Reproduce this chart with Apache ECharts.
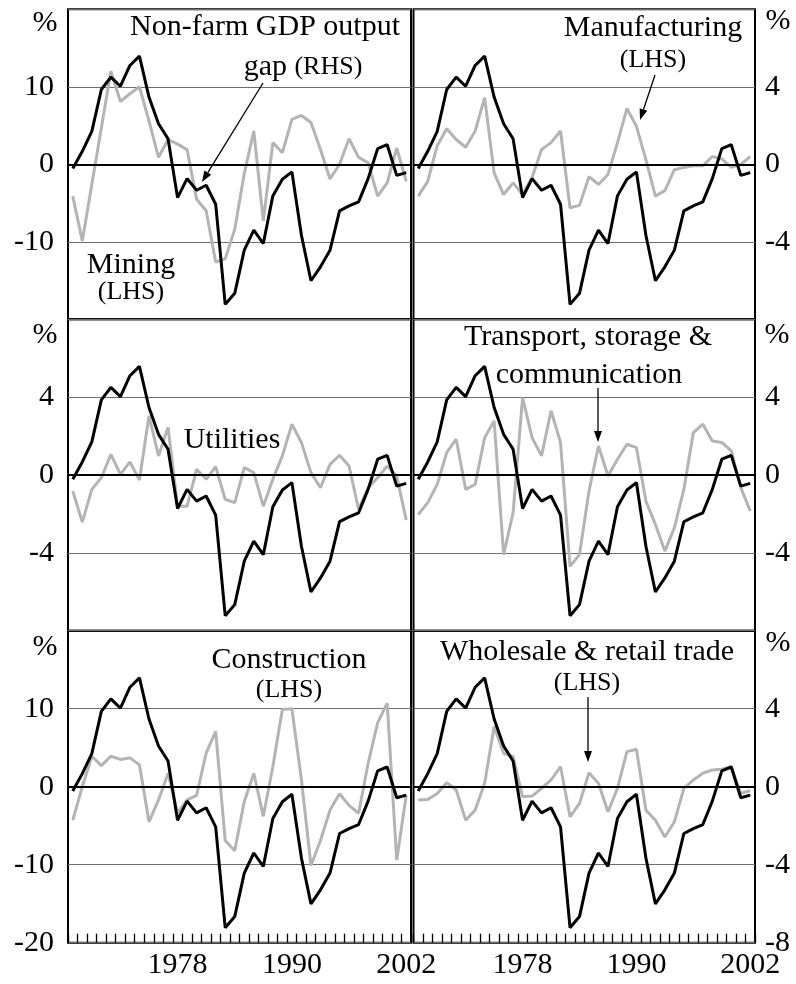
<!DOCTYPE html>
<html><head><meta charset="utf-8">
<script src="https://cdn.jsdelivr.net/npm/echarts@6/dist/echarts.min.js"></script>
<style>html,body{margin:0;padding:0;background:#fff;}#c{width:796px;height:984px;}</style>
</head><body><div id="c"></div>
<script>
const years = ['1967','1968','1969','1970','1971','1972','1973','1974','1975','1976','1977','1978',
  '1979','1980','1981','1982','1983','1984','1985','1986','1987','1988','1989','1990',
  '1991','1992','1993','1994','1995','1996','1997','1998','1999','2000','2001','2002'];
const xTickLabels = ['1978','1990','2002'];
// Non-farm GDP output gap (RHS, %)
const outputGap = [-0.22,0.67,1.7,3.86,4.50,4.03,5.10,5.58,3.47,2.09,1.32,-1.72,-0.74,-1.34,-1.08,-2.06,-7.23,-6.66,-4.43,-3.40,-4.09,-1.63,-0.77,-0.39,-3.66,-6.01,-5.29,-4.43,-2.40,-2.15,-1.94,-0.74,0.81,1.01,-0.57,-0.43];
// Sector output gaps (LHS, %)
const mining = [-4.1,-9.9,-2.6,4.7,12.0,8.1,9.1,10.0,5.6,0.9,3.2,2.6,1.9,-4.5,-6.0,-12.6,-12.2,-8.4,-1.2,4.3,-7.3,2.8,1.5,5.8,6.3,5.4,1.9,-1.9,0.0,3.3,0.9,0.2,-4.1,-2.4,2.1,-2.2];
const manufacturing = [-4.1,-2.2,2.4,4.6,3.2,2.2,4.3,8.6,-1.1,-3.9,-2.4,-3.9,-1.7,1.9,2.8,4.3,-5.6,-5.3,-1.6,-2.6,-1.3,2.8,7.2,4.9,0.6,-4.1,-3.4,-0.7,-0.4,-0.2,-0.2,1.0,0.7,-0.4,0.0,1.0];
const utilities = [-0.82,-2.42,-0.74,-0.14,1.06,0.03,0.67,-0.26,3.04,0.98,2.44,-1.6,-1.6,0.29,-0.22,0.43,-1.25,-1.42,0.38,0.12,-1.6,-0.22,0.98,2.61,1.67,0.12,-0.65,0.55,1.01,0.46,-1.77,-0.65,-0.14,0.46,-0.05,-2.32];
const transport = [-2.03,-1.42,-0.48,1.15,1.84,-0.74,-0.48,1.92,2.78,-4.09,-1.94,3.98,1.92,0.98,3.30,1.67,-4.69,-4.09,-0.82,1.49,-0.05,0.81,1.58,1.41,-1.34,-2.54,-3.91,-2.71,-0.74,2.18,2.61,1.75,1.67,1.24,-0.65,-1.85];
const construction = [-4.3,0.0,3.9,2.7,3.9,3.5,3.7,2.8,-4.5,-1.7,1.7,-3.4,-1.7,-1.1,4.3,7.1,-6.9,-8.2,-1.9,1.7,-3.8,2.6,9.9,10.0,0.9,-10.1,-6.9,-3.0,-0.9,-2.4,-3.4,3.0,8.2,10.7,-9.4,-1.1];
const wholesale = [-1.72,-1.63,-0.86,0.52,-0.43,-4.29,-3.0,0.43,7.73,4.29,3.86,-1.29,-1.2,-0.21,0.86,2.58,-3.86,-2.15,1.8,0.43,-3.22,-0.21,4.5,4.8,-3.0,-4.29,-6.44,-4.5,-0.21,0.86,1.72,2.15,2.23,2.58,-0.86,-0.52];
const lhsMax = [20, 8, 20];
const lhsInterval = [10, 4, 10];
const rhsMax = 8, rhsInterval = 4;

const sectorGrid = [[mining, manufacturing],[utilities, transport],[construction, wholesale]];
const colPos = [{left:68, width:343},{left:413.5, width:341.5}];
const rowPos = [{top:9.3, height:310},{top:319.3, height:311.4},{top:630.7, height:312}];

const FONT = "'Liberation Serif', 'Times New Roman', serif";
const grids=[], xAxes=[], yAxes=[], series=[];
let gi = 0;
for (let r=0;r<3;r++){
  for (let c=0;c<2;c++){
    grids.push({left:colPos[c].left, width:colPos[c].width, top:rowPos[r].top, height:rowPos[r].height,
      show:true, borderColor:'#000', borderWidth:2, backgroundColor:'transparent', containLabel:false, outerBoundsMode:'none'});
    const bottom = r===2;
    xAxes.push({type:'category', gridIndex:gi, data:years, boundaryGap:true, position:'bottom',
      axisLine:{show:false, onZero:false},
      axisTick:{show:false},
      axisLabel:{show:bottom, interval:0, formatter:(v)=>xTickLabels.indexOf(v)>=0 ? v : '', hideOverlap:false,
        fontFamily:FONT, fontSize:30, color:'#000', margin:7},
      splitLine:{show:false}});
    yAxes.push({type:'value', gridIndex:gi, position:'left', min:-lhsMax[r], max:lhsMax[r], interval:lhsInterval[r],
      axisLine:{show:false}, axisTick:{show:false},
      axisLabel:{show:c===0, showMinLabel:bottom, showMaxLabel:false, fontFamily:FONT, fontSize:30, color:'#000', margin:14},
      splitLine:{show:true, lineStyle:{color:'#6e6e6e', width:1.2}}});
    yAxes.push({type:'value', gridIndex:gi, position:'right', min:-rhsMax, max:rhsMax, interval:rhsInterval,
      axisLine:{show:false}, axisTick:{show:false},
      axisLabel:{show:c===1, showMinLabel:bottom, showMaxLabel:false, fontFamily:FONT, fontSize:30, color:'#000', margin:10, align:'left'},
      splitLine:{show:false}});
    series.push({type:'line', xAxisIndex:gi, yAxisIndex:2*gi, data:sectorGrid[r][c], symbol:'none', silent:true,
      lineStyle:{color:'#b4b4b4', width:3}, z:2,
      markLine:{silent:true, symbol:'none', label:{show:false}, lineStyle:{color:'#000', width:1.8, type:'solid'}, data:[{yAxis:0}], animation:false}});
    series.push({type:'line', xAxisIndex:gi, yAxisIndex:2*gi+1, data:outputGap, symbol:'none', silent:true,
      lineStyle:{color:'#000', width:3}, z:3});
    gi++;
  }
}
// annual tick marks at year boundaries on the bottom panels (one per category band)
[4,5].forEach(g=>{
  xAxes.push({type:'value', gridIndex:g, position:'bottom', min:0, max:years.length, interval:1, z:20,
    axisLine:{show:false, onZero:false}, axisLabel:{show:false}, splitLine:{show:false},
    axisTick:{show:true, inside:true, length:9, lineStyle:{color:'#000', width:1.3}}});
});

function txt(t,x,y,size){return {type:'text', z:10, style:{text:t, x:x, y:y, fill:'#000', fontFamily:FONT, fontSize:size, textAlign:'center', textVerticalAlign:'middle'}};}
function arrow(x1,y1,x2,y2){
  const a=Math.atan2(y2-y1,x2-x1), L=11, W=4;
  const bx=x2-L*Math.cos(a), by=y2-L*Math.sin(a);
  const px=-Math.sin(a)*W, py=Math.cos(a)*W;
  return [
    {type:'line', z:10, shape:{x1:x1,y1:y1,x2:bx,y2:by}, style:{stroke:'#000', lineWidth:1.3}},
    {type:'polygon', z:10, shape:{points:[[x2,y2],[bx+px,by+py],[bx-px,by-py]]}, style:{fill:'#000'}}
  ];
}
const graphic = [
  txt('Non-farm GDP output',265,27,30),
  {type:'text', z:10, style:{text:'{a|gap} {b|(RHS)}', x:303, y:67, textAlign:'center', textVerticalAlign:'middle', fill:'#000',
    fontFamily:FONT, fontSize:30,
    rich:{a:{fontFamily:FONT,fontSize:30}, b:{fontFamily:FONT,fontSize:26}}}},
  txt('Mining',131,265,30), txt('(LHS)',131,292,26),
  txt('Manufacturing',653,28,30), txt('(LHS)',653,60,26),
  txt('Utilities',232,440,30),
  txt('Transport, storage &',588,337,30), txt('communication',589,375,30),
  txt('Construction',289,660,30), txt('(LHS)',289,690,26),
  txt('Wholesale & retail trade',587,652,30), txt('(LHS)',587,683,26),
  txt('%',45,23,30), txt('%',778,21,30),
  txt('%',45,335,30), txt('%',777,335,30),
  txt('%',45,647,30), txt('%',778,643,30),
  ...arrow(263,83,202,182),
  ...arrow(655,75,640,120),
  ...arrow(598,388,598,442),
  ...arrow(588,697,588,762)
];

const chart = echarts.init(document.getElementById('c'), null, {renderer:'canvas'});
chart.setOption({animation:false, backgroundColor:'#fff', textStyle:{fontFamily:FONT},
  grid:grids, xAxis:xAxes, yAxis:yAxes, series:series, graphic:graphic});
</script></body></html>
